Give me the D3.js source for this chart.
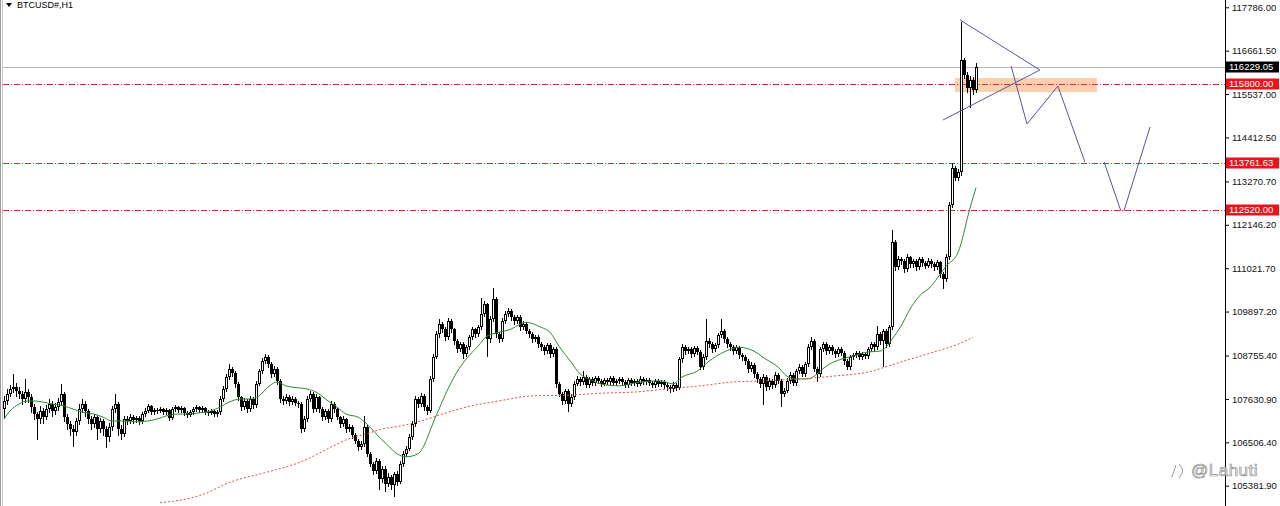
<!DOCTYPE html>
<html><head><meta charset="utf-8">
<script src="https://cdn.jsdelivr.net/npm/d3@7"></script>
<style>body{margin:0;background:#fff;overflow:hidden}svg{display:block}</style>
</head><body>
<svg id="c" width="1280" height="506"></svg>
<script>
// ---------------- DATA ----------------
const symbolLabel = "BTCUSD#,H1";
const firstOpen = 107370;
const closes = [
107580,107760,107890,107940,107840,107760,107630,107810,107680,107420,
107240,107110,107320,107160,107370,107500,107320,107420,107550,107760,
107160,106980,106850,106780,107060,107370,107500,107320,107110,106980,
107160,106850,107060,106850,106650,106900,107370,107500,106850,106730,
107110,107060,107160,107090,107140,107060,107240,107320,107450,107290,
107340,107320,107370,107290,107340,107140,107370,107420,107340,107400,
107270,107220,107290,107370,107420,107340,107400,107290,107270,107320,
107240,107290,107630,107890,108200,108410,108300,108020,107680,107420,
107580,107370,107630,107480,108020,108350,108610,108720,108530,108280,
108410,108100,107630,107580,107680,107550,107630,107530,107500,106850,
107110,107630,107760,107370,107680,107370,107160,107320,107110,107500,
107370,107160,106980,107110,106850,106900,106700,106550,106390,106470,
106900,106210,105950,105770,106030,105560,105820,105430,105610,105410,
105690,105490,105950,106210,106340,106650,106980,107630,107500,107710,
107420,107320,108150,108720,109310,109570,109440,109230,109650,109440,
109130,108920,109050,108790,108970,109230,109440,109310,109490,109830,
110090,109180,109700,110220,109310,109180,109650,109830,109900,109750,
109650,109750,109490,109570,109390,109310,109180,109230,109050,108970,
108870,109030,108790,108920,108020,107760,107580,107840,107500,107680,
108020,108150,108070,108200,107990,108150,108050,108170,108100,108020,
108120,108070,108170,108050,108100,108150,108070,107990,108120,108050,
108100,108020,108150,108070,108120,108050,107990,108100,108020,108070,
107990,107940,107890,107990,107920,108660,108970,108870,108920,108790,
108950,108850,108460,108720,109130,109050,108920,109030,109280,109390,
109180,109050,108970,108870,108970,108770,108720,108610,108410,108510,
108280,108150,108020,108200,107940,108100,107990,108250,108100,107760,
107840,108100,108250,108050,108350,108460,108280,108530,108970,109130,
108410,108280,108920,109050,108870,108970,108870,108790,108920,108820,
108610,108460,108720,108770,108820,108720,108790,108740,108920,109050,
108970,109310,109130,109390,109050,109490,111710,111040,111250,111200,
110990,111300,111120,111200,111040,111250,111150,111090,111220,111120,
111040,111170,110860,110730,111300,112670,113620,113370,113520,116420,
116030,115690,115900,115640,116230];
const highs = [
107700,107900,108000,108280,108050,107950,107850,108150,107900,107750,
107500,107300,107450,107400,107480,107620,107580,107520,107650,108020,
107820,107250,107050,106950,107150,107500,107620,107580,107380,107180,
107250,107220,107150,107120,106920,107000,107450,107760,107550,106950,
107200,107180,107230,107210,107200,107190,107300,107400,107500,107480,
107400,107390,107420,107400,107390,107370,107420,107480,107460,107450,
107430,107310,107340,107420,107480,107460,107450,107430,107340,107370,
107350,107340,107700,107960,108280,108530,108470,108350,108080,107720,
107650,107640,107700,107680,108100,108420,108680,108790,108760,108580,
108480,108450,108150,107700,107750,107730,107700,107680,107580,107550,
107200,107700,107850,107800,107750,107720,107420,107380,107360,107580,
107550,107420,107200,107180,107150,106980,106950,106750,106600,106530,
107190,106950,106260,106000,106100,106080,105900,105880,105700,105660,
105750,105760,106020,106280,106420,106720,107050,107700,107680,107780,
107760,107480,108220,108800,109400,109700,109620,109500,109720,109700,
109480,109180,109120,109100,109030,109300,109500,109480,109560,110260,
110180,110130,109780,110520,110280,109380,109720,109900,110000,109960,
109800,109820,109800,109640,109620,109450,109360,109290,109280,109100,
109020,109090,109080,108980,108970,108080,107820,107900,107880,107750,
108100,108220,108190,108350,108240,108210,108200,108230,108220,108150,
108180,108170,108230,108220,108160,108210,108200,108120,108180,108170,
108160,108150,108220,108200,108180,108170,108100,108160,108150,108130,
108120,108050,108000,108060,108050,108730,109050,109020,108990,108970,
109010,109000,108900,108790,109700,109200,109100,109090,109350,109700,
109440,109230,109100,109020,109030,109010,108830,108770,108660,108580,
108560,108330,108200,108270,108250,108170,108150,108320,108300,108150,
107920,108170,108320,108300,108420,108540,108510,108600,109050,109230,
109180,108450,108990,109120,109100,109030,109020,108920,108980,108970,
108870,108660,108780,108830,108880,108870,108850,108840,108990,109120,
109100,109520,109360,109450,109440,109560,112020,111760,111330,111300,
111250,111380,111350,111270,111250,111320,111300,111200,111280,111270,
111170,111230,111220,110910,111380,112750,113750,113680,113600,117400,
116480,116100,116000,115980,116350];
const lows = [
107150,107500,107700,107800,107700,107650,107500,107550,107550,107300,
107100,106600,107000,107000,107100,107300,107200,107250,107350,107480,
107050,106850,106700,106420,106700,106980,107300,107200,107000,106850,
106900,106600,106780,106700,106390,106550,106820,107300,106700,106600,
106680,106980,107000,107020,107040,106990,107020,107190,107280,107240,
107250,107270,107280,107250,107250,107090,107100,107330,107290,107300,
107220,107170,107180,107250,107330,107290,107300,107240,107220,107230,
107190,107200,107250,107580,107850,108150,108220,107950,107600,107350,
107370,107300,107320,107400,107430,107980,108300,108560,108450,108200,
108230,108030,107560,107500,107520,107480,107500,107470,107420,106780,
106800,107050,107580,107300,107320,107300,107080,107100,107030,107060,
107300,107100,106900,106920,106780,106800,106620,106480,106300,106330,
106420,106150,105880,105690,105700,105300,105480,105250,105380,105300,
105120,105400,105440,105900,106150,106300,106600,106930,107420,107450,
107350,107250,107280,108100,108680,109250,109380,109150,109180,109380,
109050,108850,108870,108700,108740,108920,109180,109250,109260,109440,
109780,108740,109120,109650,109250,109100,109130,109600,109780,109690,
109580,109600,109430,109440,109330,109250,109120,109130,108990,108900,
108800,108820,108730,108740,107950,107700,107500,107520,107320,107450,
107630,107980,108000,108020,107930,107940,108000,108000,108050,107970,
107980,108020,108030,108000,108000,108050,108020,107940,107950,108000,
108000,107970,107980,108020,108020,108000,107930,107950,107970,107970,
107920,107870,107800,107850,107870,107880,108600,108800,108820,108730,
108740,108790,108400,108400,108670,108980,108850,108870,108980,109230,
109120,108980,108900,108800,108820,108700,108650,108540,108340,108350,
108200,108080,107950,107500,107870,107880,107920,107940,108040,107450,
107700,107800,108050,107990,108000,108300,108220,108230,108480,108920,
108350,108100,108230,108870,108800,108820,108800,108720,108740,108760,
108540,108400,108410,108670,108720,108660,108670,108680,108690,108870,
108900,108920,109060,108480,108980,109000,109440,110980,110990,111120,
110910,110940,111050,111060,110980,110990,111090,111030,111040,111060,
110980,110990,110800,110520,110680,111250,112600,113300,113300,113450,
115950,115580,115200,115550,115580];

// moving averages (sampled at bar indices)
const fastMaIdx = [0,2,5,8,10,13,16,20,23,26,30,33,36,41,44,48,51,54,58,61,65,69,72,75,79,82,85,88,91,94,98,101,104,108,111,114,118,121,124,128,131,134,138,144,148,151,154,158,161,165,169,172,174,179,182,185,189,192,195,199,205,212,219,223,226,231,235,240,245,250,254,258,261,264,268,271,274,279,283,288,292,294,296,299,302,305,309,312,314,318,320,321,324];
const fastMaVal = [107110,107320,107500,107580,107580,107550,107500,107450,107370,107290,107240,107160,107060,107060,107040,107060,107110,107190,107240,107240,107270,107320,107420,107550,107630,107630,107710,107940,108070,107970,107920,107890,107810,107580,107420,107240,107160,106980,106730,106420,106210,106130,106210,107190,107890,108330,108660,109000,109260,109360,109440,109570,109620,109490,109360,109000,108590,108280,108150,108020,107970,108070,108100,108020,108200,108350,108610,108850,108970,108870,108660,108460,108220,108150,108150,108280,108480,108660,108740,108850,108870,108970,109180,109520,109960,110290,110550,110860,111070,111430,111950,112280,113110];
const slowMaIdx = [52,65,76,88,99,110,115,121,126,132,139,143,154,165,176,188,199,210,221,232,243,254,265,276,288,299,310,318,323];
const slowMaVal = [104940,105120,105490,105740,106000,106420,106600,106730,106850,106930,107060,107160,107420,107580,107710,107730,107780,107810,107890,107970,108070,108100,108150,108220,108330,108590,108850,109050,109230];

// axis
const yTicks = [117786.00,116661.50,115537.00,114412.50,113270.70,112146.20,111021.70,109897.20,108755.40,107630.90,106506.40,105381.90];
const levelPrices = [115800.00,113761.63,112520.00];
const lastPrice = 116229.05;

// drawn objects (bar index, price)
const zoneBars = [317, 364.3];
const zonePrices = [115953, 115590];
const triangleBars = [318.7, 345.3, 313];
const trianglePrices = [117457, 116160, 114864];
const wave1Bars = [335.7, 341, 351.3, 360.3];
const wave1Prices = [116264, 114760, 115745, 113775];
const wave2aBars = [366.7, 372.3];
const wave2aPrices = [113775, 112504];
const wave2bBars = [373.3, 382];
const wave2bPrices = [112504, 114682];
const watermark = "@Lahuti";

// ---------------- CHART ----------------
const W = 1280, H = 506, axisX = 1225;
const svg = d3.select("#c");
const N = closes.length;
const x = d3.scaleLinear().domain([0, N - 1]).range([4, 976]);
const y = d3.scaleLinear().domain([105381.9, 117786]).range([485.7, 7.3]);
const font = "'Liberation Sans', Arial, sans-serif";

const bars = closes.map((c, i) => ({
  i, o: i === 0 ? firstOpen : closes[i - 1], h: highs[i], l: lows[i], c
}));

// left frame
svg.append("rect").attr("x", 0).attr("y", 0).attr("width", 1).attr("height", H).attr("fill", "#9a9a9a");
svg.append("rect").attr("x", 2).attr("y", 0).attr("width", 1).attr("height", H).attr("fill", "#c8c8c8");

// orange zone
svg.append("rect")
  .attr("x", x(zoneBars[0])).attr("width", x(zoneBars[1]) - x(zoneBars[0]))
  .attr("y", y(zonePrices[0])).attr("height", y(zonePrices[1]) - y(zonePrices[0]))
  .attr("fill", "#f9d2ad");

// current price line
svg.append("line").attr("x1", 3).attr("x2", axisX)
  .attr("y1", Math.round(y(lastPrice)) + 0.5).attr("y2", Math.round(y(lastPrice)) + 0.5)
  .attr("stroke", "#b4b8c0").attr("stroke-width", 1);

// level lines
svg.selectAll(".lvl").data(levelPrices).join("line")
  .attr("x1", 3).attr("x2", axisX)
  .attr("y1", d => Math.round(y(d)) + 0.5).attr("y2", d => Math.round(y(d)) + 0.5)
  .attr("stroke", "#cc3535").attr("stroke-width", 1)
  .attr("stroke-dasharray", "6,2,1,2");

// candles
const g = svg.append("g").attr("shape-rendering", "crispEdges");
g.selectAll(".wick").data(bars).join("line")
  .attr("x1", d => Math.round(x(d.i)) + 0.5).attr("x2", d => Math.round(x(d.i)) + 0.5)
  .attr("y1", d => Math.round(y(d.h))).attr("y2", d => Math.round(y(d.l)) + 1)
  .attr("stroke", "#000").attr("stroke-width", 1);
g.selectAll(".body").data(bars).join("rect")
  .each(function (d) {
    const cx = Math.round(x(d.i));
    const top = Math.round(y(Math.max(d.o, d.c)));
    const bot = Math.round(y(Math.min(d.o, d.c)));
    const h = Math.max(1, bot - top);
    const s = d3.select(this);
    if (d.c >= d.o) {
      s.attr("x", cx - 0.5).attr("y", top + 0.5).attr("width", 2).attr("height", Math.max(0, h - 1))
        .attr("fill", "#fff").attr("stroke", "#000").attr("stroke-width", 1);
    } else {
      s.attr("x", cx - 1).attr("y", top).attr("width", 3).attr("height", h).attr("fill", "#000");
    }
  });

// moving averages
const line = d3.line().x(d => x(d[0])).y(d => y(d[1])).curve(d3.curveMonotoneX);
svg.append("path").datum(fastMaIdx.map((d, k) => [d, fastMaVal[k]]))
  .attr("d", line).attr("fill", "none").attr("stroke", "#2f8a36").attr("stroke-width", 1);
svg.append("path").datum(slowMaIdx.map((d, k) => [d, slowMaVal[k]]))
  .attr("d", line).attr("fill", "none").attr("stroke", "#e0504a").attr("stroke-width", 1)
  .attr("stroke-dasharray", "2,2");

// drawn annotations
const pline = d3.line().x(d => x(d[0])).y(d => y(d[1]));
const blue = "#5553a6";
const tri = triangleBars.map((b, k) => [b, trianglePrices[k]]);
svg.append("path").datum([tri[0], tri[1], tri[2]]).attr("d", pline)
  .attr("fill", "none").attr("stroke", blue).attr("stroke-width", 1);
[[wave1Bars, wave1Prices], [wave2aBars, wave2aPrices], [wave2bBars, wave2bPrices]].forEach(([bs, ps]) => {
  svg.append("path").datum(bs.map((b, k) => [b, ps[k]])).attr("d", pline)
    .attr("fill", "none").attr("stroke", blue).attr("stroke-width", 1);
});

// axis
svg.append("rect").attr("x", axisX).attr("y", 0).attr("width", 1).attr("height", H).attr("fill", "#000");
const ax = svg.append("g").attr("transform", `translate(${axisX + 1},0)`)
  .call(d3.axisRight(y).tickValues(yTicks).tickFormat(d3.format(".2f")).tickSize(3).tickPadding(3));
ax.select(".domain").remove();
ax.selectAll("line").attr("stroke", "#000");
ax.selectAll("text").attr("font-family", font).attr("font-size", "9.5px").attr("fill", "#111");

// price labels
function tag(p, bg) {
  const yy = Math.round(y(p));
  svg.append("rect").attr("x", axisX + 1).attr("y", yy - 5.5).attr("width", 53).attr("height", 11).attr("fill", bg);
  svg.append("text").attr("x", axisX + 4).attr("y", yy).attr("dy", "0.35em")
    .attr("font-family", font).attr("font-size", "9.5px").attr("fill", "#fff")
    .text(d3.format(".2f")(p));
}
levelPrices.forEach(p => tag(p, "#e8141b"));
tag(lastPrice, "#000");

// title
svg.append("path").attr("d", "M6,3 L12,3 L9,7 Z").attr("fill", "#000");
svg.append("text").attr("x", 17).attr("y", 8).attr("font-family", font).attr("font-size", "9px")
  .attr("fill", "#000").text(symbolLabel);

// watermark
svg.append("path").attr("d", "M1172,477 L1176,465 M1179,464 Q1186,470 1179,478")
  .attr("fill", "none").attr("stroke", "#9a9a9a").attr("stroke-width", 1);
svg.append("text").attr("x", 1191).attr("y", 476).attr("font-family", font).attr("font-size", "17px")
  .attr("fill", "#fff").attr("stroke", "#8e8e8e").attr("stroke-width", 0.7).attr("letter-spacing", "0.5px")
  .text(watermark);
</script>
</body></html>
